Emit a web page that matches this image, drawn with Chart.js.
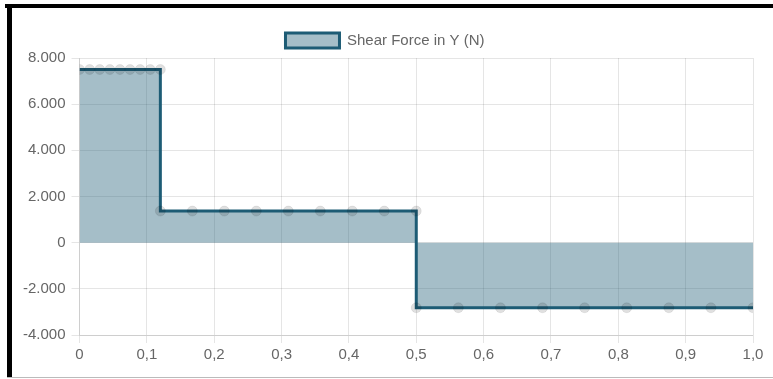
<!DOCTYPE html>
<html>
<head>
<meta charset="utf-8">
<script src="https://cdn.jsdelivr.net/npm/chart.js@4"></script>
<style>
  body { margin: 0; background: #fff; }
  .bar { position: absolute; background: #000; }
  #wrap { position: absolute; left: 12px; top: 8px; width: 761px; height: 369px; }
</style>
</head>
<body>
<div class="bar" style="left:5px;top:4px;width:768px;height:4px"></div>
<div class="bar" style="left:7px;top:4px;width:5px;height:374px"></div>
<div class="bar" style="left:7px;top:377px;width:766px;height:1px;background:#bbb"></div>
<div id="wrap"><canvas id="shearChart"></canvas></div>
<script>
  // Positions along the beam (x) and shear values (N)
  const positions = [
    0, 0.015, 0.03, 0.045, 0.06, 0.075, 0.09, 0.105, 0.12,
    0.12, 0.1675, 0.215, 0.2625, 0.31, 0.3575, 0.405, 0.4525, 0.5,
    0.5, 0.5625, 0.625, 0.6875, 0.75, 0.8125, 0.875, 0.9375, 1.0
  ];
  const shear = [
    7500, 7500, 7500, 7500, 7500, 7500, 7500, 7500, 7500,
    1370, 1370, 1370, 1370, 1370, 1370, 1370, 1370, 1370,
    -2820, -2820, -2820, -2820, -2820, -2820, -2820, -2820, -2820
  ];
  const seriesLabel = "Shear Force in Y (N)";

  const points = positions.map((x, i) => ({ x: x, y: shear[i] }));

  const ctx = document.getElementById("shearChart").getContext("2d");
  const chart = new Chart(ctx, {
    type: "scatter",
    data: {
      datasets: [{
        label: seriesLabel,
        data: points,
        showLine: true,
        fill: "origin",
        borderColor: "rgb(29,92,117)",
        backgroundColor: "rgba(29,92,117,0.4)",
        borderWidth: 3,
        pointRadius: 5,
        pointBackgroundColor: "rgba(0,0,0,0.12)",
        pointBorderColor: "rgba(0,0,0,0.07)",
        pointBorderWidth: 1,
        tension: 0
      }]
    },
    options: {
      responsive: true,
      maintainAspectRatio: false,
      animation: false,
      locale: "de-DE",
      layout: { padding: { left: 5, right: 20, top: 15, bottom: 10 } },
      plugins: {
        legend: {
          labels: {
            color: "#666",
            font: { size: 15 },
            boxWidth: 54,
            boxHeight: 15,
            useBorderRadius: false
          }
        },
        tooltip: { enabled: false }
      },
      scales: {
        x: {
          type: "linear",
          min: 0,
          max: 1,
          ticks: { stepSize: 0.1, color: "#666", font: { size: 15 }, padding: 3 },
          grid: { color: "rgba(0,0,0,0.1)", tickLength: 8 },
          border: { color: "rgba(0,0,0,0.1)" }
        },
        y: {
          min: -4000,
          max: 8000,
          ticks: { stepSize: 2000, color: "#666", font: { size: 15 }, padding: 6 },
          grid: { color: "rgba(0,0,0,0.1)", tickLength: 8 },
          border: { color: "rgba(0,0,0,0.1)" }
        }
      }
    }
  });
</script>
</body>
</html>
